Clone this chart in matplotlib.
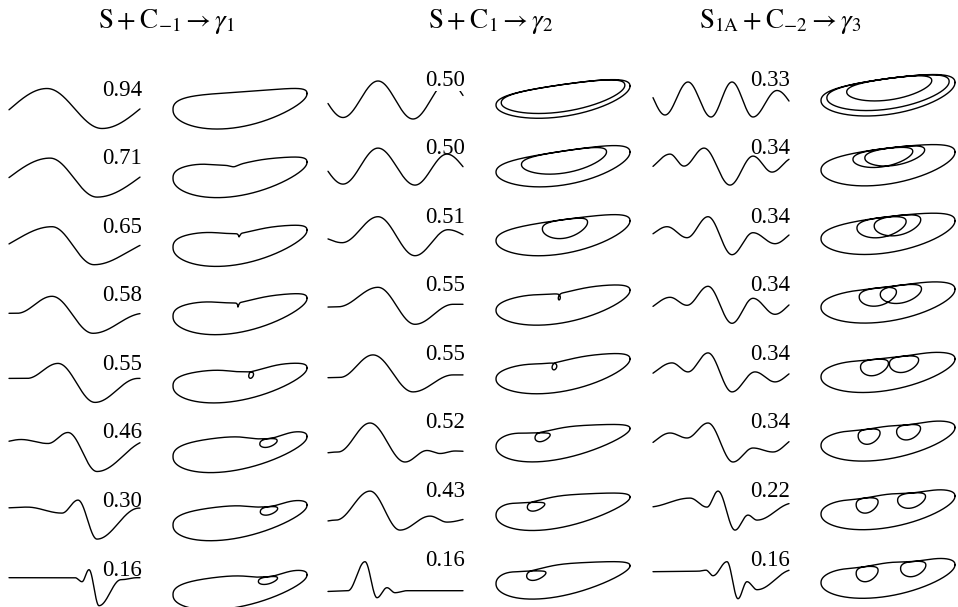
import numpy as np
import matplotlib
matplotlib.use("Agg")
import matplotlib.pyplot as plt

plt.rcParams['mathtext.fontset'] = 'stix'

FIG_W, FIG_H, DPI = 958, 607, 100

# ---------------------------------------------------------------- text
titles = [r'$\mathrm{S}+\mathrm{C}_{-1}\rightarrow\gamma_{1}$',
          r'$\mathrm{S}+\mathrm{C}_{1}\rightarrow\gamma_{2}$',
          r'$\mathrm{S}_{1\mathrm{A}}+\mathrm{C}_{-2}\rightarrow\gamma_{3}$']
title_x = [167, 491, 780]
title_baseline = 28

speeds_g1 = [0.94, 0.71, 0.65, 0.58, 0.55, 0.46, 0.30, 0.16]
speeds_g2 = [0.50, 0.50, 0.51, 0.55, 0.55, 0.52, 0.43, 0.16]
speeds_g3 = [0.33, 0.34, 0.34, 0.34, 0.34, 0.34, 0.22, 0.16]

# ---------------------------------------------------------------- layout (px)
wave_left = [9, 328, 653]
wave_len = [131, 135, 136]
loop_left = [173, 496, 821]
first_centre = [108.5, 99.5, 99.5]
row_step = 68.6
label_right = [133, 137, 137]
label_base = [13, 14, 14]
end_bluntness = [0.85, 0.92, 0.92]

# ---------------------------------------------------------------- waveforms
# turning points (x, u) of each profile; consecutive points are joined by
# half-cosine segments
wave_g1 = [
    [(-35, -20), (38, 20), (93, -20), (170, 20)],
    [(-41, -20), (41, 19), (88, -20), (174, 20)],
    [(-30, -8), (43, 19), (85, -19), (150, 5)],
    [(-10, 1), (8, 1), (43, 18), (84, -19), (135, 1), (150, 1)],
    [(-10, 4.5), (18, 4.5), (49, 19.5), (86, -19.5), (129, 4.5), (150, 4.5)],
    [(-10, 9), (12, 12), (39, 8), (59, 19), (88, -20), (140, 11), (150, 11)],
    [(-10, 12), (18, 13), (53, 7), (69, 20), (88, -19), (130, 12), (150, 12)],
    [(-10, 11), (66, 11), (73, 7), (80, 19), (90, -17), (112, 9), (128, 11), (150, 11)],
]
wave_g2 = [
    [(-20, 18), (15, -18), (50, 18.5), (85, -19.5), (120, 18), (155, -18)],
    [(-20, 17), (15, -16), (50, 20), (87, -17), (119, 14), (150, -10)],
    [(-10, 0), (14, -6), (50, 20), (87, -19), (120, 7), (150, -3)],
    [(-10, -2), (10, -1.5), (50, 18), (87, -19), (125, 1), (150, 1)],
    [(-10, -4), (12, -3.5), (45, 19), (85, -18), (125, -1), (150, -1)],
    [(-10, -11), (10, -9.5), (42, 19.5), (77, -19.5), (99, -8), (112, -11), (127, -8.5), (150, -9.5)],
    [(-10, -11), (8, -9), (42, 20), (72, -19), (102, -5), (119, -11), (150, -6)],
    [(-10, -12), (20, -11), (37, 18), (49, -18), (59, -8), (67, -13), (79, -11), (150, -11)],
]
wave_g3 = [
    [(-11, 17), (12, -15.5), (35, 17.5), (58, -17.5), (79, 17.5), (100, -17.5), (124, 9), (150, -15)],
    [(-8, -2), (17, 14), (31, 2), (51, 20), (77, -17), (100, 12), (119, -4), (140, 10)],
    [(-8, 0), (14, 10), (34, -1), (55, 20), (79, -18), (100, 4), (122, -7), (145, 6)],
    [(-10, -5), (17, 8), (34, 0), (55, 19), (79, -18), (100, 7), (122, -9), (145, 5)],
    [(-10, -3), (19, 11), (35, 2), (55, 21), (79, -18), (102, 2), (122, -8), (145, 4)],
    [(-10, -4), (17, 9.5), (34, 4.5), (55, 19.5), (80, -19.5), (100, -5.5), (120, -9.5), (145, 5)],
    [(-5, 4), (37, 13), (54, 4), (65, 20), (82, -19), (95, -4), (104, -9), (140, 8)],
    [(-5, 8), (45, 8.5), (53, 9.5), (60, 4), (74, 18), (85, -19), (94, -2), (104, -10), (140, 10)],
]

# ---------------------------------------------------------------- phase orbits
# base orbit: (centre height, tilt, half thickness, sag, left swelling)
orbit_g1 = [(7, 8, 17.5, 8, .2), (7, 8, 17.5, 8, .2), (7, 8.5, 17.5, 8, .2), (7, 9, 17, 8, .2),
            (6, 9, 16.5, 7, .2), (5, 10, 17, 6, .2), (5, 10, 16.5, 6, .2), (4, 10, 16, 6, .2)]
orbit_g2 = [(4, 9.5, 16, 5, 0), (6, 10, 17, 6, 0), (6, 10, 17, 6, .05), (5, 10, 16.5, 6, .1),
            (5, 10, 16.5, 6, .1), (5, 9, 16, 5, .3), (5, 9, 16, 5, .3), (5, 9, 16, 5, .3)]
orbit_g3 = [(8, 9, 18, 5, 0), (7, 9, 18, 5, .05), (7, 9, 18, 5, .05), (7, 9, 18, 5, .05),
            (6, 9, 17.5, 5, .1), (6, 9, 17.5, 5, .1), (6, 9, 17.5, 5, .1), (6, 9, 17.5, 5, .1)]
# extra turns on the upper branch: (position, x scale, y scale, speed ratio, dip)
loops_g1 = [[], [(0.43, 0.02, 0.05, 0.3, 4)], [(0.48, 0.02, 0.10, 0.8, 4)],
            [(0.47, 0.025, 0.13, 1.0, 4)], [(0.56, 0.07, 0.2, 3, 5)],
            [(0.70, 0.17, 0.24, 6, 6)], [(0.70, 0.17, 0.24, 6, 5)], [(0.70, 0.18, 0.22, 7, 5)]]
loops_g2 = [[(0.50, 0.93, 0.85, 200, 0)], [(0.52, 0.64, 0.65, 200, 0)], [(0.50, 0.34, 0.55, 200, 0)],
            [(0.46, 0.055, 0.2, 1.8, 3)], [(0.42, 0.08, 0.22, 2.5, 3)], [(0.31, 0.15, 0.28, 6, 4)],
            [(0.25, 0.17, 0.28, 6, 4)], [(0.25, 0.18, 0.30, 7, 4)]]
loops_g3 = [[(0.48, 0.92, 0.85, 200, 0), (0.53, 0.64, 0.6, 200, 0)],
            [(0.43, 0.45, 0.5, 200, 0), (0.58, 0.45, 0.5, 200, 0)],
            [(0.425, 0.37, 0.55, 200, 0), (0.58, 0.35, 0.55, 200, 0)],
            [(0.40, 0.28, 0.5, 200, 1), (0.61, 0.31, 0.5, 200, 1)],
            [(0.373, 0.21, 0.46, 200, 2), (0.615, 0.22, 0.46, 200, 2)],
            [(0.336, 0.165, 0.43, 200, 2.5), (0.65, 0.18, 0.43, 200, 2.5)],
            [(0.32, 0.165, 0.43, 200, 2.5), (0.68, 0.21, 0.43, 200, 2.5)],
            [(0.32, 0.165, 0.43, 200, 2.5), (0.69, 0.19, 0.43, 200, 2.5)]]

HALF_LEN = 67.0


def profile(nodes, x):
    xs = np.array([p[0] for p in nodes], float)
    us = np.array([p[1] for p in nodes], float)
    i = np.clip(np.searchsorted(xs, x) - 1, 0, len(xs) - 2)
    t = np.clip((x - xs[i]) / (xs[i + 1] - xs[i]), 0, 1)
    return us[i] + (us[i + 1] - us[i]) * (1 - np.cos(np.pi * t)) / 2


def orbit(base, loops, blunt):
    cy, ka, b, c, g = base
    a = HALF_LEN

    def bx(s):
        return a + a * np.cos(s)

    def tilt(s):
        return ka * np.cos(s)

    def shape(s):
        sn = np.sin(s)
        return b * (1 - g * np.cos(s)) * np.sign(sn) * np.abs(sn) ** blunt - c * sn ** 2

    def slope(s, lx=1.0, ly=1.0, h=1e-4):
        dx = lx * (bx(s + h) - bx(s - h))
        dy = lx * (tilt(s + h) - tilt(s - h)) + ly * (shape(s + h) - shape(s - h))
        return dy / dx

    windows = []
    for f, lx, ly, q, dip in loops:
        s0 = np.arccos(2 * f - 1)
        windows.append((s0, 4 * np.pi * lx / q))
    s = [np.linspace(0, 2 * np.pi, 5000)]
    for s0, w in windows:
        s.append(np.linspace(s0 - w / 2, s0 + w / 2, 3000))
    s = np.unique(np.concatenate(s))
    x = bx(s)
    y = cy + tilt(s) + shape(s)
    cand = np.linspace(0.15, np.pi - 0.15, 2000)
    for (f, lx, ly, q, dip), (s0, w) in zip(loops, windows):
        # start the extra turn where its tangent runs along the orbit
        t0 = cand[np.argmin(np.abs(slope(cand, lx, ly) - slope(s0)))]
        y = y - dip * np.exp(-((s - s0) / 0.35) ** 2)
        v = (s - (s0 - w / 2)) / w
        F = np.where(v <= 0, 0.0, np.where(v >= 1, 1.0, v - np.sin(2 * np.pi * v) / (2 * np.pi)))
        ph = t0 + 2 * np.pi * F
        x = x + lx * (bx(ph) - bx(t0))
        y = y + lx * (tilt(ph) - tilt(t0)) + ly * (shape(ph) - shape(t0))
    return x, y


def panel(fig, left_px, centre_px, width_px=146, half_h=34, pad=6):
    ax = fig.add_axes([(left_px - pad) / FIG_W, 1 - (centre_px + half_h) / FIG_H,
                       width_px / FIG_W, 2 * half_h / FIG_H])
    ax.set_xlim(-pad, width_px - pad)
    ax.set_ylim(-half_h, half_h)
    ax.axis('off')
    return ax


fig = plt.figure(figsize=(FIG_W / DPI, FIG_H / DPI), dpi=DPI)
fig.patch.set_facecolor('white')

for gx, title in enumerate(titles):
    fig.text(title_x[gx] / FIG_W, 1 - title_baseline / FIG_H, title,
             ha='center', va='baseline', fontsize=19.5)

groups = [(wave_g1, orbit_g1, loops_g1, speeds_g1),
          (wave_g2, orbit_g2, loops_g2, speeds_g2),
          (wave_g3, orbit_g3, loops_g3, speeds_g3)]

for gx, (waves, orbits, loops, speeds) in enumerate(groups):
    for r in range(8):
        centre = first_centre[gx] + r * row_step
        ax = panel(fig, wave_left[gx], centre)
        xx = np.linspace(0, wave_len[gx], 900)
        ax.plot(xx, profile(waves[r], xx), color='black', lw=1.0, solid_capstyle='round')
        box = dict(facecolor='white', edgecolor='none', pad=0.2) if (gx, r) == (1, 0) else None
        ax.text(label_right[gx], label_base[gx], f"{speeds[r]:.2f}", ha='right', va='baseline',
                fontsize=16.5, family='Liberation Serif', zorder=3, bbox=box)

        ax2 = panel(fig, loop_left[gx], centre)
        ox, oy = orbit(orbits[r], loops[r], end_bluntness[gx])
        ax2.plot(ox, oy, color='black', lw=1.0)

fig.savefig('out.png', dpi=DPI, facecolor='white')
